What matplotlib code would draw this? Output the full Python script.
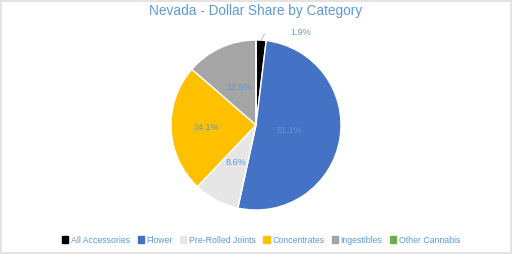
import numpy as np
import matplotlib
matplotlib.use("Agg")
import matplotlib.pyplot as plt

categories = ["All Accessories", "Flower", "Pre-Rolled Joints", "Concentrates", "Ingestibles", "Other Cannabis"]
shares = [1.9, 51.1, 8.6, 24.1, 13.5, 0.0]
label_texts = ["1.9%", "51.1%", "8.6%", "24.1%", "13.5%", ""]

colors = ["#000000", "#4472C4", "#E7E6E6", "#FFC000", "#A5A5A5", "#70AD47"]
label_dist = [None, 0.40, 0.50, 0.59, 0.49, None]
text_color = "#5B9BD5"

plt.rcParams["font.family"] = ["Liberation Sans", "DejaVu Sans"]

fig = plt.figure(figsize=(5.12, 2.54), dpi=100)
fig.patch.set_edgecolor("#E3E3E3")
fig.patch.set_linewidth(1.5)

ax = fig.add_axes([(256 - 85) / 512, (254 - 125 - 85) / 254, 170 / 512, 170 / 254])
wedges, _ = ax.pie(shares, colors=colors, startangle=90, counterclock=False,
                   radius=1.0, wedgeprops=dict(edgecolor="white", linewidth=1.0))
ax.set_xlim(-1, 1)
ax.set_ylim(-1, 1)
ax.set_aspect("equal")
ax.axis("off")

for w, txt, d in zip(wedges, label_texts, label_dist):
    if not txt:
        continue
    mid = np.deg2rad((w.theta1 + w.theta2) / 2)
    if d is None:
        # small slice: label outside with a short leader line
        x0, y0 = np.cos(mid), np.sin(mid)
        ax.plot([x0, x0 + 0.04], [y0, y0 + 0.07], color="#BFBFBF", lw=0.7, clip_on=False)
        ax.text(0.52, 1.09, txt, color=text_color, fontsize=6.5,
                ha="center", va="center")
    else:
        ax.text(d * np.cos(mid), d * np.sin(mid), txt, color=text_color,
                fontsize=6.5, ha="center", va="center")

fig.text(0.5, 0.955, "Nevada - Dollar Share by Category", ha="center", va="center",
         color=text_color, fontsize=9.8)

handles = [plt.Rectangle((0, 0), 1, 1, color=c) for c in colors]
fig.legend(handles, categories, loc="center", bbox_to_anchor=(0.51, 0.055), ncol=6,
           frameon=False, fontsize=6.3, handlelength=0.7, handleheight=0.7,
           handletextpad=0.3, columnspacing=0.85, labelcolor=text_color)

fig.savefig("out.png", dpi=100)
